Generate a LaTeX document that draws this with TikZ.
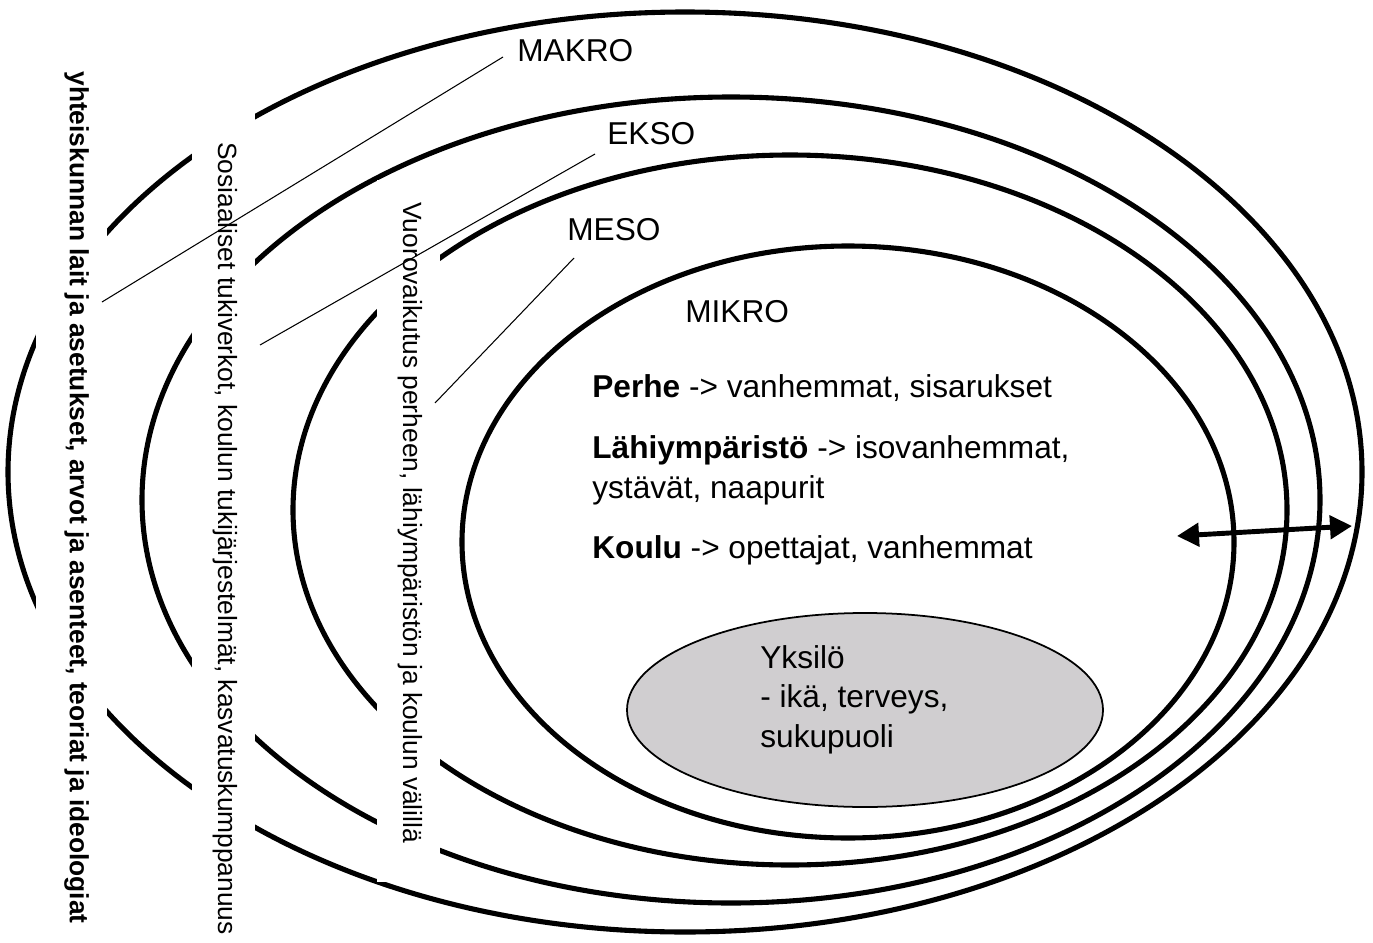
\documentclass[tikz,border=0pt]{standalone}
\usepackage{fontspec}
\setmainfont{Liberation Sans}
\usetikzlibrary{arrows.meta}
\usetikzlibrary{positioning}

\definecolor{yksilogray}{RGB}{208,206,208}

\tikzset{
    ring/.style={draw, line width=2.9pt},
    whitegap/.style={fill=white, draw=none},
    leaderline/.style={draw, line width=0.6pt},
    levelname/.style={font=\fontsize{18}{22.7}\selectfont, inner sep=0pt, anchor=base west},
    sidetext/.style={font=\fontsize{15}{18}\selectfont, inner sep=0pt, rotate=-90, anchor=base west},
}

\begin{document}
\begin{tikzpicture}[x=0.02cm, y=-0.02cm, node distance=0.8cm]
    \useasboundingbox (0,0) rectangle (1373,943);

    % rings, outermost first
    \draw [ring] (685,472) ellipse [x radius=677, y radius=460];
    \draw [ring] (731,500) ellipse [x radius=589, y radius=403];
    \draw [ring] (790,510) ellipse [x radius=497, y radius=355];
    \draw [ring] (848,542) ellipse [x radius=386, y radius=296];

    % white strips behind the side texts
    \fill [whitegap] (36,55) rectangle (107,940);
    \fill [whitegap] (192,100) rectangle (255,943);
    \fill [whitegap] (377,180) rectangle (440,882);

    % side texts
    \node [sidetext, font=\fontsize{15}{18}\selectfont\bfseries] (lait) at (70,71)
        {yhteiskunnan lait ja asetukset, arvot ja asenteet, teoriat ja ideologiat};
    \node [sidetext] (tuki) at (218,142)
        {Sosiaaliset tukiverkot, koulun tukijärjestelmät, kasvatuskumppanuus};
    \node [sidetext] (vuoro) at (403,202)
        {Vuorovaikutus perheen, lähiympäristön ja koulun välillä};

    % level names
    \node [levelname] (makro) at (517,61) {MAKRO};
    \node [levelname] (ekso) at (607,144) {EKSO};
    \node [levelname] (meso) at (567,240) {MESO};
    \node [levelname] (mikro) at (685,322) {MIKRO};

    % leader lines
    \coordinate (makrofoot) at (503,57);
    \coordinate (makroend) at (102,302);
    \coordinate (eksofoot) at (595,154);
    \coordinate (eksoend) at (260,345);
    \coordinate (mesofoot) at (574,258);
    \coordinate (mesoend) at (435,403);
    \draw [leaderline] (makrofoot) -- (makroend);
    \draw [leaderline] (eksofoot) -- (eksoend);
    \draw [leaderline] (mesofoot) -- (mesoend);

    % micro level contents
    \node [levelname] (perhe) at (592,397) {\textbf{Perhe} -> vanhemmat, sisarukset};
    \node [levelname, below=1.24cm of perhe.base west, anchor=base west] (lahi)
        {\textbf{Lähiympäristö} -> isovanhemmat,};
    \node [levelname, below=of lahi.base west, anchor=base west] (lahi2) {ystävät, naapurit};
    \node [levelname, below=1.2cm of lahi2.base west, anchor=base west] (koulu)
        {\textbf{Koulu} -> opettajat, vanhemmat};

    % the individual
    \draw [fill=yksilogray, line width=1pt] (865,710) ellipse [x radius=238, y radius=97];
    \node [levelname] (yksilo) at (760,668) {Yksilö};
    \node [levelname, below=of yksilo.base west, anchor=base west] (ika) {- ikä, terveys,};
    \node [levelname, below=of ika.base west, anchor=base west] (suku) {sukupuoli};

    % two-way arrow
    \coordinate (tipleft) at (1177,536);
    \coordinate (tipright) at (1352,526);
    \draw [line width=2.8pt, {Triangle[length=0.44cm, width=0.46cm]}-{Triangle[length=0.44cm, width=0.46cm]}]
        (tipleft) -- (tipright);
\end{tikzpicture}
\end{document}
